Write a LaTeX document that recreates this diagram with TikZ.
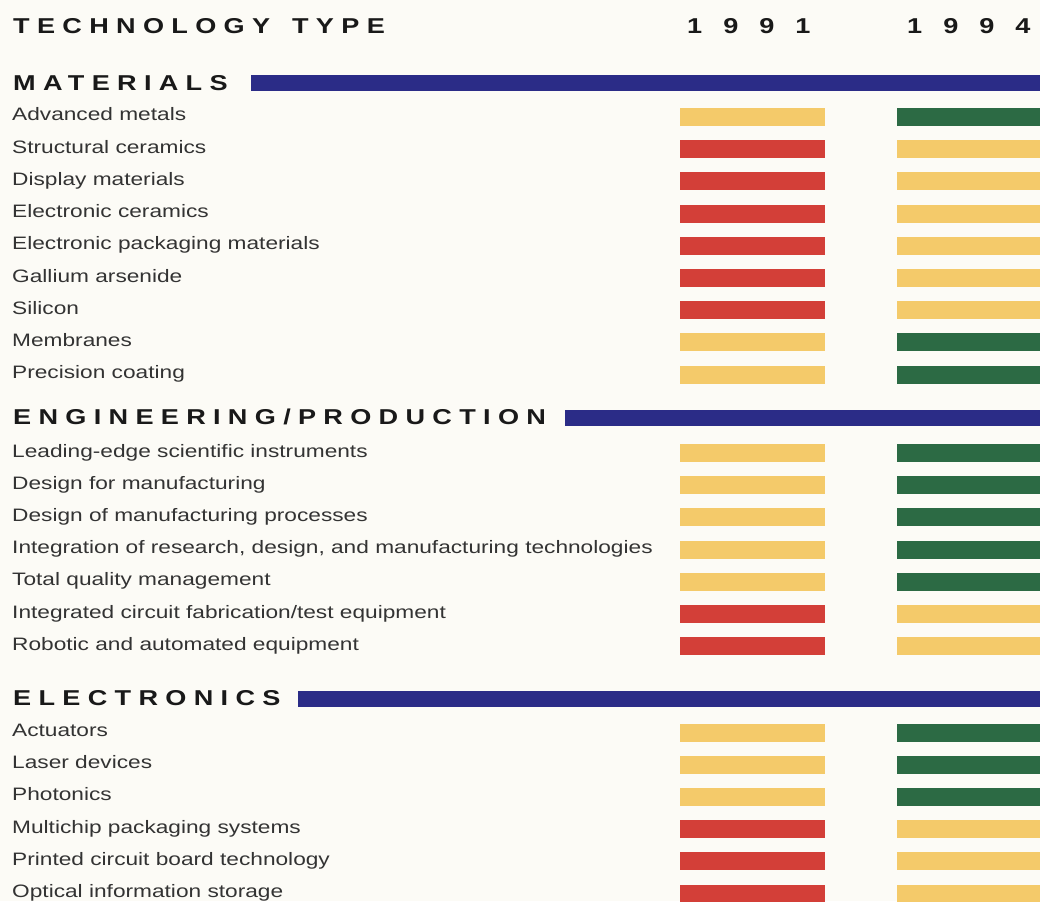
\documentclass[tikz,border=0pt]{standalone}
\usepackage{fontspec}
\setmainfont{Liberation Sans}[FakeStretch=1.26]
\newfontfamily\headfont{Liberation Sans}[FakeStretch=1.26,LetterSpace=34]
\usetikzlibrary{calc}

\definecolor{paper}{HTML}{FCFBF6}
\definecolor{barYellow}{HTML}{F4CA6A}
\definecolor{barRed}{HTML}{D33F38}
\definecolor{barGreen}{HTML}{2C6A44}
\definecolor{ruleBlue}{HTML}{2B2C87}
\definecolor{labelGrey}{HTML}{333333}

\newcommand{\wgap}{\hspace{22pt}}
\newcommand{\dgap}{\hspace{21pt}}

\tikzset{
  heading/.style={anchor=base west,inner sep=0pt,text=black!90,
    font=\headfont\bfseries\fontsize{21.5}{21.5}\selectfont},
  item/.style={anchor=base west,inner sep=0pt,text=labelGrey,
    font=\fontsize{18}{18}\selectfont},
  bar/.style={minimum width=145pt,minimum height=18pt,inner sep=0pt},
  newbar/.style={bar,minimum width=143pt},
  rulebar/.style={fill=ruleBlue},
}

\begin{document}
\begin{tikzpicture}[x=1pt,y=-1pt]
\useasboundingbox (0,0) rectangle (1040,901);
\fill[paper] (0,0) rectangle (1040,901);

% column heads
\node[heading] (type) at (13,34) {TECHNOLOGY\wgap TYPE};
\node[heading] (y91) at (687,34) {1\dgap 9\dgap 9\dgap 1};
\node[heading] (y94) at (907,34) {1\dgap 9\dgap 9\dgap 4};

% materials
\node[heading] (mat) at (13,90.5) {MATERIALS};
\fill[rulebar] (251,75) rectangle (1040,91);
\foreach \name/\old/\new [count=\i from 0] in {
  Advanced metals/barYellow/barGreen,
  Structural ceramics/barRed/barYellow,
  Display materials/barRed/barYellow,
  Electronic ceramics/barRed/barYellow,
  Electronic packaging materials/barRed/barYellow,
  Gallium arsenide/barRed/barYellow,
  Silicon/barRed/barYellow,
  Membranes/barYellow/barGreen,
  Precision coating/barYellow/barGreen}{
  \pgfmathsetmacro\yb{117+32.2*\i}
  \node[item] (mat-\i) at (12,\yb+4) {\name};
  \node[bar,fill=\old] (mat-\i-a) at (752.5,\yb) {};
  \node[newbar,fill=\new] (mat-\i-b) at (968.5,\yb) {};
}

% engineering/production
\node[heading] (eng) at (13,424.5) {ENGINEERING/PRODUCTION};
\fill[rulebar] (565,409.5) rectangle (1040,425.5);
\foreach \name/\old/\new [count=\i from 0] in {
  Leading-edge scientific instruments/barYellow/barGreen,
  Design for manufacturing/barYellow/barGreen,
  Design of manufacturing processes/barYellow/barGreen,
  {Integration of research, design, and manufacturing technologies}/barYellow/barGreen,
  Total quality management/barYellow/barGreen,
  {Integrated circuit fabrication/test equipment}/barRed/barYellow,
  Robotic and automated equipment/barRed/barYellow}{
  \pgfmathsetmacro\yb{453+32.2*\i}
  \node[item] (eng-\i) at (12,\yb+4) {\name};
  \node[bar,fill=\old] (eng-\i-a) at (752.5,\yb) {};
  \node[newbar,fill=\new] (eng-\i-b) at (968.5,\yb) {};
}

% electronics
\node[heading] (elec) at (13,705.5) {ELECTRONICS};
\fill[rulebar] (298,690.5) rectangle (1040,706.5);
\foreach \name/\old/\new [count=\i from 0] in {
  Actuators/barYellow/barGreen,
  Laser devices/barYellow/barGreen,
  Photonics/barYellow/barGreen,
  Multichip packaging systems/barRed/barYellow,
  Printed circuit board technology/barRed/barYellow,
  Optical information storage/barRed/barYellow}{
  \pgfmathsetmacro\yb{732.5+32.2*\i}
  \node[item] (elec-\i) at (12,\yb+4) {\name};
  \node[bar,fill=\old] (elec-\i-a) at (752.5,\yb) {};
  \node[newbar,fill=\new] (elec-\i-b) at (968.5,\yb) {};
}
\end{tikzpicture}
\end{document}
